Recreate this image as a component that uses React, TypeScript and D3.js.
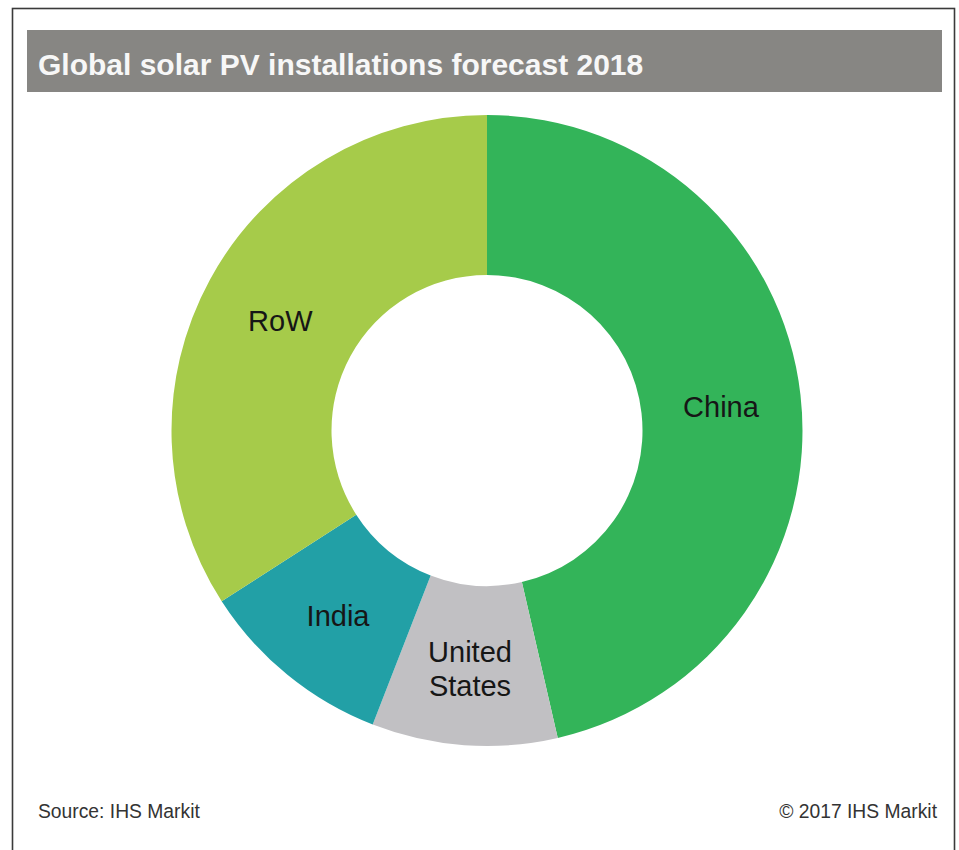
import React from "react";
import * as d3 from "d3";

const categories = ["China", "United States", "India", "RoW"];
const values = [46.4, 9.5, 10.0, 34.1];
const colors = ["#33b459", "#c1c0c3", "#22a0a6", "#a6cb4a"];
const labelLines: string[][] = [["China"], ["United", "States"], ["India"], ["RoW"]];

const title = "Global solar PV installations forecast 2018";
const sourceText = "Source: IHS Markit";
const copyrightText = "© 2017 IHS Markit";

const W = 959;
const H = 850;
const cx = 487;
const cy = 430.5;
const outerR = 315.5;
const innerR = 155.5;

export default function App() {
  const data = categories.map((c, i) => ({ name: c, value: values[i], color: colors[i], lines: labelLines[i] }));
  const pie = d3.pie<any>().sort(null).value((d: any) => d.value);
  const arcs = pie(data);
  const arc = d3.arc<any>().innerRadius(innerR).outerRadius(outerR);
  const font = "'Liberation Sans', Arial, sans-serif";
  return (
    <svg width={W} height={H} style={{ position: "absolute", left: 0, top: 0, background: "#fff" }}>
      <rect x={12.5} y={8.5} width={942} height={850} fill="#fff" stroke="#3a3a3a" strokeWidth={1.6} />
      <rect x={27} y={30} width={915} height={62} fill="#878683" />
      <text x={38} y={75} fill="#f7f7f7" fontFamily={font} fontWeight="bold" fontSize={30}>{title}</text>
      <g transform={`translate(${cx},${cy})`}>
        {arcs.map((a, i) => (
          <path key={i} d={arc(a) as string} fill={a.data.color} />
        ))}
        {arcs.map((a, i) => {
          const [x, y] = arc.centroid(a);
          const lines = a.data.lines as string[];
          const lh = 34;
          const y0 = y + 3 - ((lines.length - 1) * lh) / 2;
          return (
            <text key={"l" + i} x={x} textAnchor="middle" fontFamily={font} fontSize={29} fill="#161616">
              {lines.map((ln, j) => (
                <tspan key={j} x={x} y={y0 + j * lh} dy="0.35em">{ln}</tspan>
              ))}
            </text>
          );
        })}
      </g>
      <text x={38} y={818} fill="#333" fontFamily={font} fontSize={19.3}>{sourceText}</text>
      <text x={937} y={818} textAnchor="end" fill="#333" fontFamily={font} fontSize={19.3}>{copyrightText}</text>
    </svg>
  );
}
